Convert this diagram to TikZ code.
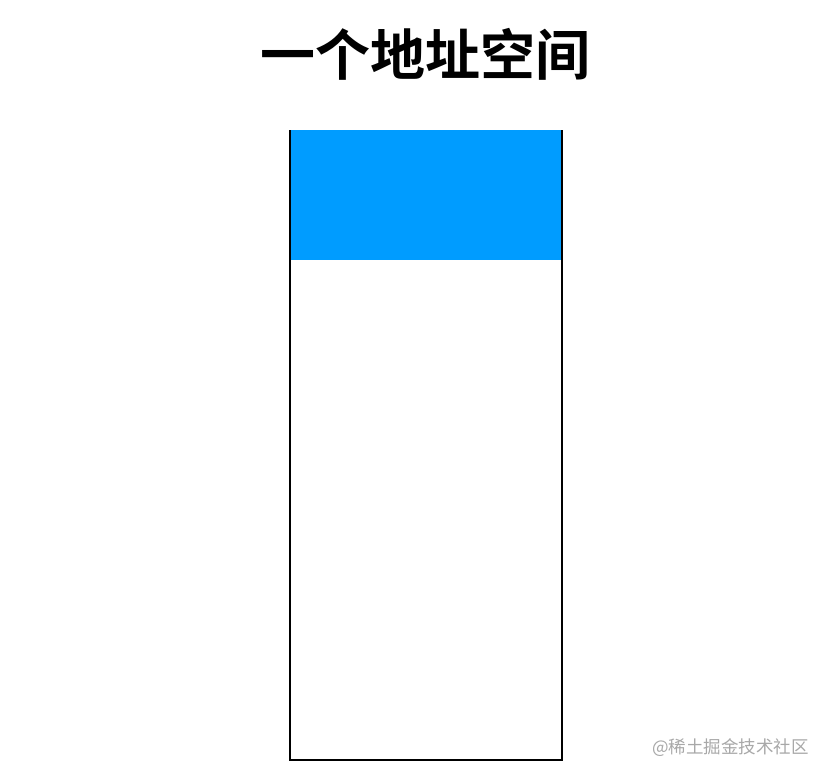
\documentclass[tikz,border=0pt]{standalone}
\usepackage{fontspec}
\newfontfamily\cjk{Noto Sans CJK SC}
\newfontfamily\cjkb{Noto Sans CJK SC Bold}
\definecolor{blockblue}{HTML}{009CFF}
\definecolor{wmgray}{HTML}{A8A8A8}
\begin{document}
\begin{tikzpicture}[x=1pt,y=-1pt,
  title/.style={font=\cjkb\fontsize{55}{64}\selectfont, inner sep=0pt, anchor=center},
  watermark/.style={font=\cjk\fontsize{17.5}{21}\selectfont, text=wmgray, inner sep=0pt, anchor=east},
  used/.style={fill=blockblue, draw=none},
  space/.style={draw=black, line width=2pt}]
\useasboundingbox (0,0) rectangle (830,780);
\fill[white] (0,0) rectangle (830,780);
\node[title] (t) at (425,54) {一个地址空间};
\fill[used] (290,130) rectangle (562,260);
\draw[space] (290,130) -- (290,760) -- (562,760) -- (562,130);
\node[watermark] (wm) at (809,748) {@稀土掘金技术社区};
\end{tikzpicture}
\end{document}
